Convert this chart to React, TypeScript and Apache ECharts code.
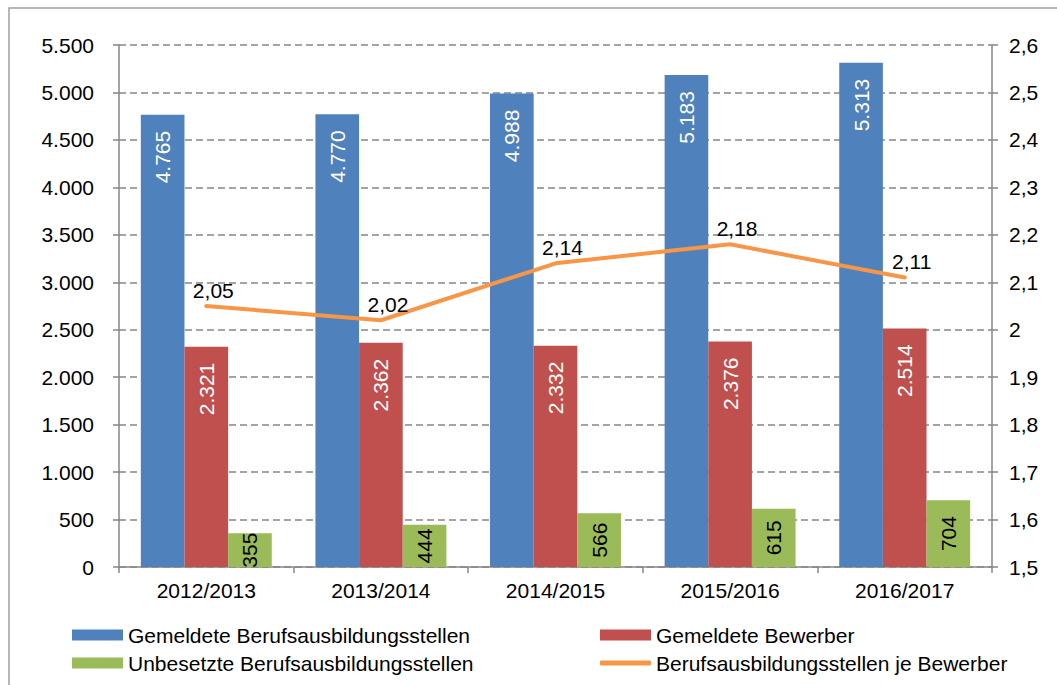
import React, { useEffect, useRef } from "react";
import * as echarts from "echarts";

const categories = ["2012/2013", "2013/2014", "2014/2015", "2015/2016", "2016/2017"];
const stellen = [4765, 4770, 4988, 5183, 5313];
const bewerber = [2321, 2362, 2332, 2376, 2514];
const unbesetzt = [355, 444, 566, 615, 704];
const ratio = [2.05, 2.02, 2.14, 2.18, 2.11];

const seriesNames = [
  "Gemeldete Berufsausbildungsstellen",
  "Gemeldete Bewerber",
  "Unbesetzte Berufsausbildungsstellen",
  "Berufsausbildungsstellen je Bewerber",
];

const FONT = '"Liberation Sans", Arial, sans-serif';
const FS = 21;
const GRID_COLOR = "#868686";

function de(n: number): string {
  return String(n).replace(/\B(?=(\d{3})+(?!\d))/g, ".");
}

function deDec(v: number): string {
  const r = Math.round(v * 10) / 10;
  return String(r).replace(".", ",");
}

function legendAt(left: number, top: number, name: string, icon: string, h: number) {
  return {
    orient: "horizontal",
    left,
    top,
    itemWidth: 51,
    itemHeight: h,
    textStyle: { fontSize: FS, color: "#000", fontFamily: FONT },
    data: [{ name, icon }],
  };
}

export default function App() {
  const ref = useRef<HTMLDivElement>(null);

  useEffect(() => {
    if (!ref.current) return;
    const chart = echarts.init(ref.current, null, { renderer: "svg" });

    const barLabelTop = {
      show: true,
      position: "insideTop",
      rotate: 90,
      align: "right",
      verticalAlign: "middle",
      distance: 16,
      color: "#ffffff",
      fontSize: FS,
      fontFamily: FONT,
      formatter: (p: any) => de(p.value),
    };

    const option: any = {
      animation: false,
      backgroundColor: "#ffffff",
      textStyle: { fontFamily: FONT },
      graphic: [
        {
          type: "rect",
          z: -10,
          silent: true,
          shape: { x: 9, y: 8, width: 1100, height: 720 },
          style: { fill: "none", stroke: "#a0a0a0", lineWidth: 1.5 },
        },
      ],
      grid: { left: 119, right: 65, top: 45, bottom: 118, containLabel: false },
      legend: [
        legendAt(67, 619.5, seriesNames[0], "rect", 11),
        legendAt(67, 647.5, seriesNames[2], "rect", 11),
        legendAt(595, 619.5, seriesNames[1], "rect", 11),
        legendAt(595, 647.5, seriesNames[3], "roundRect", 5),
      ],
      xAxis: {
        type: "category",
        data: categories,
        boundaryGap: true,
        axisLine: { show: true, lineStyle: { color: GRID_COLOR, width: 1.5 } },
        axisTick: { show: true, length: 6, lineStyle: { color: GRID_COLOR, width: 1.5 } },
        axisLabel: { color: "#000", fontSize: FS, fontFamily: FONT, margin: 13 },
      },
      yAxis: [
        {
          type: "value",
          min: 0,
          max: 5500,
          interval: 500,
          axisLine: { show: true, lineStyle: { color: GRID_COLOR, width: 1.5 } },
          axisTick: { show: true, length: 6, lineStyle: { color: GRID_COLOR, width: 1.5 } },
          axisLabel: {
            color: "#000",
            fontSize: FS,
            fontFamily: FONT,
            margin: 25,
            formatter: (v: number) => de(v),
          },
          splitLine: {
            show: true,
            lineStyle: { color: GRID_COLOR, width: 1.5, type: [7, 4] },
          },
        },
        {
          type: "value",
          min: 1.5,
          max: 2.6,
          interval: 0.1,
          position: "right",
          axisLine: { show: true, lineStyle: { color: GRID_COLOR, width: 1.5 } },
          axisTick: { show: true, length: 6, lineStyle: { color: GRID_COLOR, width: 1.5 } },
          axisLabel: {
            color: "#000",
            fontSize: FS,
            fontFamily: FONT,
            margin: 17,
            formatter: (v: number) => deDec(v),
          },
          splitLine: { show: false },
        },
      ],
      series: [
        {
          name: seriesNames[0],
          type: "bar",
          data: stellen,
          barGap: "0%",
          barCategoryGap: "25%",
          itemStyle: { color: "#4F81BD" },
          label: barLabelTop,
        },
        {
          name: seriesNames[1],
          type: "bar",
          data: bewerber,
          barGap: "0%",
          barCategoryGap: "25%",
          itemStyle: { color: "#C0504D" },
          label: barLabelTop,
        },
        {
          name: seriesNames[2],
          type: "bar",
          data: unbesetzt,
          barGap: "0%",
          barCategoryGap: "25%",
          itemStyle: { color: "#9BBB59" },
          label: {
            show: true,
            position: "inside",
            rotate: 90,
            color: "#000",
            fontSize: FS,
            fontFamily: FONT,
            formatter: (p: any) => de(p.value),
          },
        },
        {
          name: seriesNames[3],
          type: "line",
          yAxisIndex: 1,
          data: ratio,
          symbol: "circle",
          symbolSize: 1,
          showSymbol: true,
          itemStyle: { color: "#F79646" },
          lineStyle: { color: "#F79646", width: 4, cap: "round", join: "round" },
          z: 5,
          label: {
            show: true,
            position: "top",
            distance: 5,
            offset: [7, 0],
            color: "#000",
            fontSize: FS,
            fontFamily: FONT,
            formatter: (p: any) => Number(p.value).toFixed(2).replace(".", ","),
          },
        },
      ],
    };

    chart.setOption(option);
    return () => chart.dispose();
  }, []);

  return (
    <div
      ref={ref}
      style={{ position: "fixed", left: 0, top: 0, width: 1057, height: 685 }}
    />
  );
}
